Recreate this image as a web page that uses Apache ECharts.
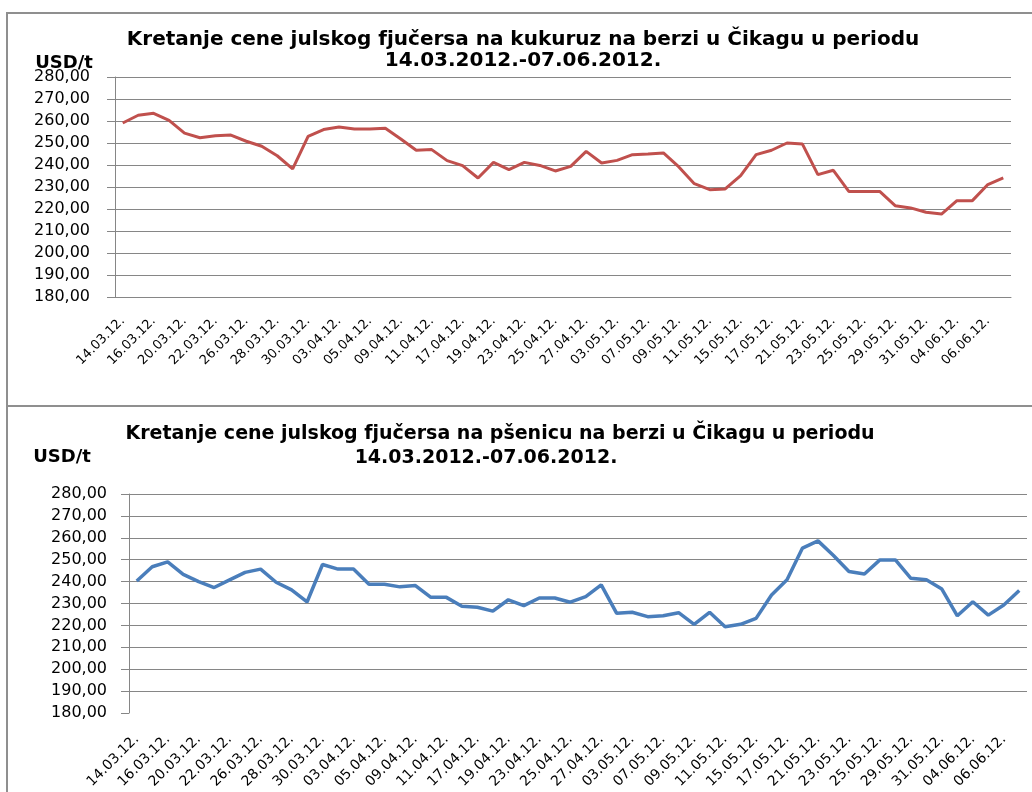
<!DOCTYPE html>
<html>
<head>
<meta charset="utf-8">
<script src="https://cdn.jsdelivr.net/npm/echarts@6/dist/echarts.min.js"></script>
<style>
html,body{margin:0;padding:0;background:#fff;}
#c{width:1032px;height:792px;}
</style>
</head>
<body>
<div id="c"></div>
<script>
// Categories (trading days)
const dates = [
 '14.03.12.','15.03.12.','16.03.12.','19.03.12.','20.03.12.','21.03.12.','22.03.12.','23.03.12.',
 '26.03.12.','27.03.12.','28.03.12.','29.03.12.','30.03.12.','02.04.12.','03.04.12.','04.04.12.',
 '05.04.12.','06.04.12.','09.04.12.','10.04.12.','11.04.12.','16.04.12.','17.04.12.','18.04.12.',
 '19.04.12.','20.04.12.','23.04.12.','24.04.12.','25.04.12.','26.04.12.','27.04.12.','30.04.12.',
 '03.05.12.','04.05.12.','07.05.12.','08.05.12.','09.05.12.','10.05.12.','11.05.12.','14.05.12.',
 '15.05.12.','16.05.12.','17.05.12.','18.05.12.','21.05.12.','22.05.12.','23.05.12.','24.05.12.',
 '25.05.12.','28.05.12.','29.05.12.','30.05.12.','31.05.12.','01.06.12.','04.06.12.','05.06.12.',
 '06.06.12.','07.06.12.'
];

// Corn (kukuruz) USD/t
const corn = [
 259.1,262.6,263.5,260.3,254.5,252.4,253.3,253.6,
 250.8,248.5,244.2,238.2,253.0,256.1,257.3,256.4,
 256.4,256.7,251.8,246.7,247.0,242.0,239.7,234.1,
 241.2,237.9,241.2,239.8,237.3,239.4,246.2,240.9,
 242.1,244.7,245.0,245.5,239.1,231.5,228.8,229.1,
 235.2,244.7,246.7,250.0,249.5,235.6,237.6,228.0,
 228.0,228.0,221.5,220.5,218.5,217.7,223.8,223.8,
 231.1,234.1
];

// Wheat (pšenica) USD/t
const wheat = [
 240.3,246.8,249.0,243.3,240.0,237.3,240.8,244.2,
 245.7,239.7,236.2,230.7,247.8,245.7,245.7,238.8,
 238.8,237.6,238.2,232.8,232.8,228.7,228.3,226.5,
 231.7,229.0,232.5,232.5,230.6,233.1,238.5,225.5,
 226.0,224.0,224.4,225.8,220.5,226.0,219.4,220.5,
 223.2,233.9,240.8,255.3,258.6,251.9,244.6,243.5,
 249.9,249.9,241.5,240.8,236.6,224.4,230.8,224.7,
 229.3,235.9
];

const yMin = 180, yMax = 280, yStep = 10;
const unitLabel = 'USD/t';
const title1a = 'Kretanje cene julskog fjučersa na kukuruz na berzi u Čikagu u periodu';
const title2a = 'Kretanje cene julskog fjučersa na pšenicu na berzi u Čikagu u periodu';
const titleLine2 = '14.03.2012.-07.06.2012.';

const FONT = '"DejaVu Sans", Verdana, sans-serif';
const GRID_C = '#868686';
const fmt = v => v.toFixed(2).replace('.', ',');

function yAxis(gi, margin, showMin) {
  return {
    type: 'value', gridIndex: gi, min: yMin, max: yMax, interval: yStep,
    axisLine: {show: true, lineStyle: {color: GRID_C, width: 1}},
    axisTick: {show: true, length: 8, inside: false, lineStyle: {color: GRID_C}},
    splitLine: {show: true, showMinLine: showMin, lineStyle: {color: GRID_C, width: 1}},
    axisLabel: {formatter: fmt, color: '#000', fontFamily: FONT, fontSize: 16, margin: margin}
  };
}
function xAxis(gi, showLine, fs, margin) {
  return {
    type: 'category', gridIndex: gi, data: dates, boundaryGap: true,
    axisLine: {show: showLine, onZero: false, lineStyle: {color: GRID_C, width: 1}},
    axisTick: {show: false},
    splitLine: {show: false},
    axisLabel: {interval: 1, rotate: 45, color: '#000', fontFamily: FONT, fontSize: fs, margin: margin}
  };
}
function txt(x, y, text, size, bold) {
  return {type: 'text', x: x, y: y, silent: true,
    style: {text: text, fill: '#000', font: (bold ? 'bold ' : '') + size + 'px ' + FONT,
      align: 'center', verticalAlign: 'middle', textAlign: 'center', textVerticalAlign: 'middle'}};
}

const chart = echarts.init(document.getElementById('c'), null, {renderer: 'canvas'});
chart.setOption({
  animation: false,
  backgroundColor: '#fff',
  grid: [
    {left: 115, top: 77, width: 896, height: 220},
    {left: 129, top: 494, width: 898, height: 219}
  ],
  xAxis: [xAxis(0, true, 13, 22), xAxis(1, false, 14, 24)],
  yAxis: [yAxis(0, 25, true), yAxis(1, 22, false)],
  series: [
    {type: 'line', xAxisIndex: 0, yAxisIndex: 0, data: corn, showSymbol: false,
     lineStyle: {color: '#C0504D', width: 3}, itemStyle: {color: '#C0504D'}},
    {type: 'line', xAxisIndex: 1, yAxisIndex: 1, data: wheat, showSymbol: false,
     lineStyle: {color: '#4A7EBB', width: 3.5}, itemStyle: {color: '#4A7EBB'}}
  ],
  graphic: [
    {type: 'rect', shape: {x: 7, y: 13, width: 1040, height: 393}, silent: true,
     style: {fill: null, stroke: '#8f8f8f', lineWidth: 2}},
    {type: 'line', shape: {x1: 7, y1: 406, x2: 7, y2: 800}, silent: true,
     style: {stroke: '#8f8f8f', lineWidth: 2}},
    txt(523, 40, title1a, 20, true),
    txt(523, 61, titleLine2, 20, true),
    txt(64, 63, unitLabel, 18, true),
    txt(500, 434, title2a, 19, true),
    txt(486, 458, titleLine2, 19, true),
    txt(62, 457, unitLabel, 18, true)
  ]
});
</script>
</body>
</html>
